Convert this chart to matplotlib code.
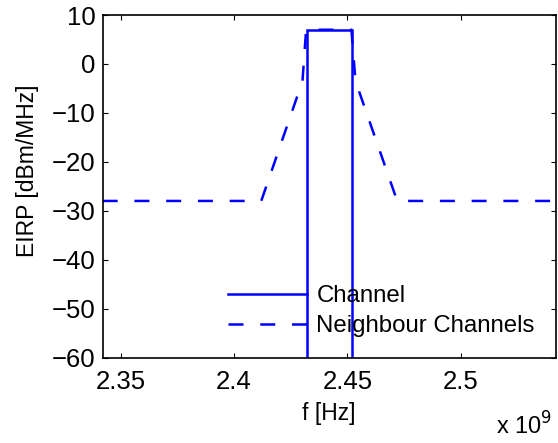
import numpy as np
import matplotlib
matplotlib.use("Agg")
import matplotlib.pyplot as plt

plt.rcParams['font.family'] = ['Liberation Sans', 'DejaVu Sans']

# Data (frequencies in Hz, EIRP in dBm/MHz)
channel_f = [2.432e9, 2.432e9, 2.452e9, 2.452e9]
channel_p = [-60, 7, 7, -60]

neigh_f = [2.342e9, 2.412e9, 2.4302e9, 2.4318e9, 2.4518e9, 2.4536e9, 2.472e9, 2.542e9]
neigh_p = [-28, -28, -3.5, 7, 7, -3.5, -28, -28]

xticks = [2.35e9, 2.4e9, 2.45e9, 2.5e9]
xticklabels = ['2.35', '2.4', '2.45', '2.5']
yticks = [-60, -50, -40, -30, -20, -10, 0, 10]
yticklabels = ['\u221260', '\u221250', '\u221240', '\u221230', '\u221220', '\u221210', '0', '10']

fig = plt.figure(figsize=(5.58, 4.43), dpi=100)
ax = fig.add_axes([0.184, 0.193, 0.812, 0.773])

lw = 1.8
ax.plot(channel_f, channel_p, color='#0000ff', lw=lw, label='Channel', solid_joinstyle='miter')
ax.plot(neigh_f, neigh_p, color='#0000ff', lw=lw, dashes=(6, 6.7), label='Neighbour Channels')

ax.set_xlim(2.342e9, 2.542e9)
ax.set_ylim(-60, 10)
ax.set_xticks(xticks)
ax.set_xticklabels(xticklabels)
ax.set_yticks(yticks)
ax.set_yticklabels(yticklabels)
ax.tick_params(direction='in', length=3.5, width=0.8, top=True, right=True,
               labelsize=18.5)
ax.tick_params(axis='x', pad=9)
ax.tick_params(axis='y', pad=5)
for s in ax.spines.values():
    s.set_linewidth(1.2)

ax.set_xlabel('f [Hz]', fontsize=16.5, labelpad=6)
ax.set_ylabel('EIRP [dBm/MHz]', fontsize=16.5, va='center')
ax.yaxis.set_label_coords(-0.166, 0.545)

fig.text(0.99, 0.008, r'x 10$^{9}$', fontsize=17, ha='right', va='bottom')

leg = ax.legend(loc='center left', bbox_to_anchor=(0.2766, 0.135), frameon=False,
                fontsize=17.3, handlelength=3.3, handletextpad=0.38,
                labelspacing=0.32, borderaxespad=0, borderpad=0)

fig.savefig('out.png', dpi=100)
